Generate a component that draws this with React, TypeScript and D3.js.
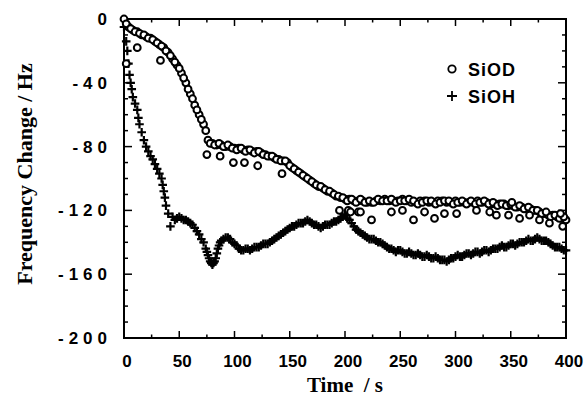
import React from "react";
import * as d3 from "d3";

// SiOD (time in s, frequency change in Hz)
const siodT = [0,4,8,12,16,20,24,28,32,36,40,44,48,52,56,60,64,68,72,76,80,84,88,92,96,100,104,108,112,116,120,124,128,132,136,140,144,148,152,156,160,164,168,172,176,180,184,188,192,196,200,204,208,212,216,220,224,228,232,236,240,244,248,252,256,260,264,268,272,276,280,284,288,292,296,300,304,308,312,316,320,324,328,332,336,340,344,348,352,356,360,364,368,372,376,380,384,388,392,396,400];
const siodV = [0,-5,-7,-8,-10,-11,-12,-14,-16,-18,-21,-25,-29,-34,-40,-47,-54,-60,-66,-76,-78,-79,-79,-80,-80,-81,-81,-82,-82,-83,-83,-84,-85,-86,-87,-88,-89,-90,-93,-95,-97,-99,-101,-103,-105,-106,-108,-109,-111,-112,-113,-113,-114,-114,-114,-115,-115,-114,-114,-113,-114,-114,-114,-113,-114,-115,-115,-114,-114,-115,-115,-114,-114,-115,-115,-114,-115,-115,-115,-115,-114,-115,-115,-116,-116,-116,-116,-117,-117,-118,-118,-119,-119,-120,-121,-122,-123,-123,-124,-125,-126];
const siodT2 = [2,6,10,14,18,22,26,30,34,38,42,46,50,54,58,62,66,70,74,78,82,86,90,94,98,102,106,110,114,118,122,126,130,134,138,142,146,150,154,158,162,166,170,174,178,182,186,190,194,198,202,206,210,214,218,222,226,230,234,238,242,246,250,254,258,262,266,270,274,278,282,286,290,294,298,302,306,310,314,318,322,326,330,334,338,342,346,350,354,358,362,366,370,374,378,382,386,390,394,398];
const siodV2 = [-3,-6,-8,-9,-10,-12,-13,-15,-17,-20,-23,-27,-31,-37,-44,-50,-57,-63,-70,-78,-79,-78,-80,-79,-81,-82,-81,-83,-82,-84,-83,-85,-86,-86,-88,-89,-89,-92,-94,-96,-98,-100,-102,-104,-105,-107,-108,-110,-111,-112,-114,-113,-115,-113,-115,-114,-115,-113,-114,-114,-113,-115,-114,-114,-113,-114,-116,-115,-114,-114,-116,-115,-114,-114,-116,-115,-114,-116,-114,-116,-115,-114,-116,-115,-117,-116,-117,-116,-118,-117,-119,-118,-120,-120,-122,-121,-124,-123,-125,-124];
// SiOD scattered points
const siodExtraT = [12,33,2,75,87,99,109,121,143,195,203,212,205,214,224,242,252,262,272,281,290,301,319,331,337,348,351,358,367,376,385,395,397];
const siodExtraV = [-18,-26,-28,-85,-86,-90,-90,-92,-97,-120,-120,-121,-121,-121,-126,-121,-120,-126,-121,-125,-122,-122,-120,-121,-123,-123,-115,-125,-123,-126,-128,-122,-130];
// SiOH
const siohT = [0,2,3,4,5,6,7,8,10,12,13,14,16,18,20,22,24,26,28,30,32,34,35,36,37,38,40,42,44,48,52,56,60,64,68,72,74,76,78,80,82,84,86,88,92,96,100,104,108,112,116,120,124,128,132,136,140,144,148,152,156,160,164,168,172,176,180,184,188,192,196,200,204,208,212,216,220,224,228,232,236,240,244,248,252,256,260,264,268,272,276,280,284,288,292,296,300,304,308,312,316,320,324,328,332,336,340,344,348,352,356,360,364,368,372,376,380,384,388,392,396,400];
const siohV = [-5,-14,-20,-28,-35,-40,-44,-49,-53,-57,-62,-66,-71,-76,-80,-83,-86,-88,-91,-94,-97,-100,-104,-108,-112,-117,-122,-130,-124,-125,-125,-126,-128,-131,-135,-140,-144,-148,-152,-154,-152,-147,-142,-139,-137,-138,-141,-144,-145,-144,-144,-143,-142,-141,-140,-138,-136,-134,-132,-130,-129,-128,-127,-127,-129,-130,-130,-129,-128,-127,-125,-123,-126,-130,-133,-135,-137,-138,-139,-140,-142,-144,-145,-145,-146,-147,-147,-148,-148,-149,-149,-150,-150,-151,-152,-150,-149,-149,-148,-147,-147,-146,-146,-145,-145,-144,-143,-143,-142,-141,-141,-140,-139,-139,-138,-138,-139,-140,-142,-143,-144,-145];
const siohT2 = [46,50,54,58,62,66,70,75,77,79,81,83,85,87,90,94,98,102,106,110,114,118,122,126,130,134,138,142,146,150,154,158,162,166,170,174,178,182,186,190,194,198,202,206,210,214,218,222,226,230,234,238,242,246,250,254,258,262,266,270,274,278,282,286,290,294,298,302,306,310,314,318,322,326,330,334,338,342,346,350,354,358,362,366,370,374,378,382,386,390,394,398];
const siohV2 = [-126,-124,-126,-127,-129,-133,-138,-146,-150,-153,-153,-150,-144,-140,-138,-137,-140,-142,-145,-144,-145,-143,-143,-141,-141,-139,-137,-135,-133,-131,-130,-128,-128,-126,-128,-129,-131,-129,-129,-127,-126,-124,-125,-128,-132,-134,-136,-138,-138,-140,-141,-143,-144,-146,-145,-147,-146,-148,-147,-149,-148,-150,-149,-151,-151,-151,-150,-148,-149,-147,-148,-146,-147,-145,-146,-144,-144,-142,-143,-141,-142,-140,-140,-138,-139,-137,-139,-139,-141,-143,-143,-145];

const xTicks = [0, 50, 100, 150, 200, 250, 300, 350, 400];
const yTicks = [0, -40, -80, -120, -160, -200];
const seriesNames = ["SiOD", "SiOH"];

const W = 588, H = 396;
const L = 124, R = 566, T = 19, B = 338;

export default function App() {
  const x = d3.scaleLinear().domain([0, 400]).range([L, R]);
  const y = d3.scaleLinear().domain([0, -200]).range([T, B]);
  const xMinor = d3.range(0, 401, 25);
  const yMinor = d3.range(0, -201, -10);
  const tickFont = "'Liberation Sans', Arial, sans-serif";
  const serif = "'Liberation Serif', 'Times New Roman', serif";
  const plus = (cx: number, cy: number, s: number) => `M${cx - s},${cy}H${cx + s}M${cx},${cy - s}V${cy + s}`;
  const allSiodT = siodT.concat(siodT2);
  const allSiodV = siodV.concat(siodV2);
  const allSiohT = siohT.concat(siohT2);
  const allSiohV = siohV.concat(siohV2);
  return (
    <svg width={W} height={H} style={{ position: "absolute", left: 0, top: 0, background: "#fff" }}>
      <rect x={0} y={0} width={W} height={H} fill="#fff" />
      <rect x={L} y={T} width={R - L} height={B - T} fill="none" stroke="#000" strokeWidth={2} />
      {xMinor.map((t) => {
        const major = t % 50 === 0;
        const len = major ? 7 : 3.5;
        return (
          <g key={"xt" + t}>
            <line x1={x(t)} x2={x(t)} y1={B} y2={B - len} stroke="#000" strokeWidth={1.5} />
            <line x1={x(t)} x2={x(t)} y1={T} y2={T + len} stroke="#000" strokeWidth={1.5} />
          </g>
        );
      })}
      {yMinor.map((v) => {
        const major = v % 40 === 0;
        const len = major ? 8 : 4;
        return (
          <g key={"yt" + v}>
            <line x1={L} x2={L + len} y1={y(v)} y2={y(v)} stroke="#000" strokeWidth={1.5} />
            <line x1={R} x2={R - len} y1={y(v)} y2={y(v)} stroke="#000" strokeWidth={1.5} />
          </g>
        );
      })}
      {xTicks.map((t) => (
        <text key={"xl" + t} x={x(t) + 3} y={367} textAnchor="middle" fontFamily={tickFont} fontWeight="bold" fontSize={17}>
          {t}
        </text>
      ))}
      {yTicks.map((v) => (
        <text key={"yl" + v} x={112} y={y(v) + 6} textAnchor="end" fontFamily={tickFont} fontWeight="bold" fontSize={17} letterSpacing={5}>
          {v === 0 ? "0" : "-" + Math.abs(v)}
        </text>
      ))}
      <text x={345} y={392} textAnchor="middle" fontFamily={serif} fontWeight="bold" fontSize={21} xmlSpace="preserve">Time  / s</text>
      <text transform={`translate(32,174) rotate(-90)`} textAnchor="middle" fontFamily={serif} fontWeight="bold" fontSize={22}>Frequency Change / Hz</text>
      <g stroke="#000" strokeWidth={2.2} fill="none">
        {allSiohT.map((t, i) => (
          <path key={"p" + i} d={plus(x(t), y(allSiohV[i]), 4.3)} />
        ))}
      </g>
      <g stroke="#000" strokeWidth={2} fill="#fff">
        {allSiodT.map((t, i) => (
          <circle key={"c" + i} cx={x(t)} cy={y(allSiodV[i])} r={3.4} />
        ))}
        {siodExtraT.map((t, i) => (
          <circle key={"e" + i} cx={x(t)} cy={y(siodExtraV[i])} r={3.4} />
        ))}
      </g>
      <circle cx={452} cy={69} r={3.7} fill="#fff" stroke="#000" strokeWidth={1.8} />
      <text x={468} y={76} fontFamily={tickFont} fontSize={18} fontWeight="bold" letterSpacing={1}>{seriesNames[0]}</text>
      <path d={plus(452, 96, 5)} stroke="#000" strokeWidth={1.8} />
      <text x={468} y={103} fontFamily={tickFont} fontSize={18} fontWeight="bold" letterSpacing={1}>{seriesNames[1]}</text>
    </svg>
  );
}
